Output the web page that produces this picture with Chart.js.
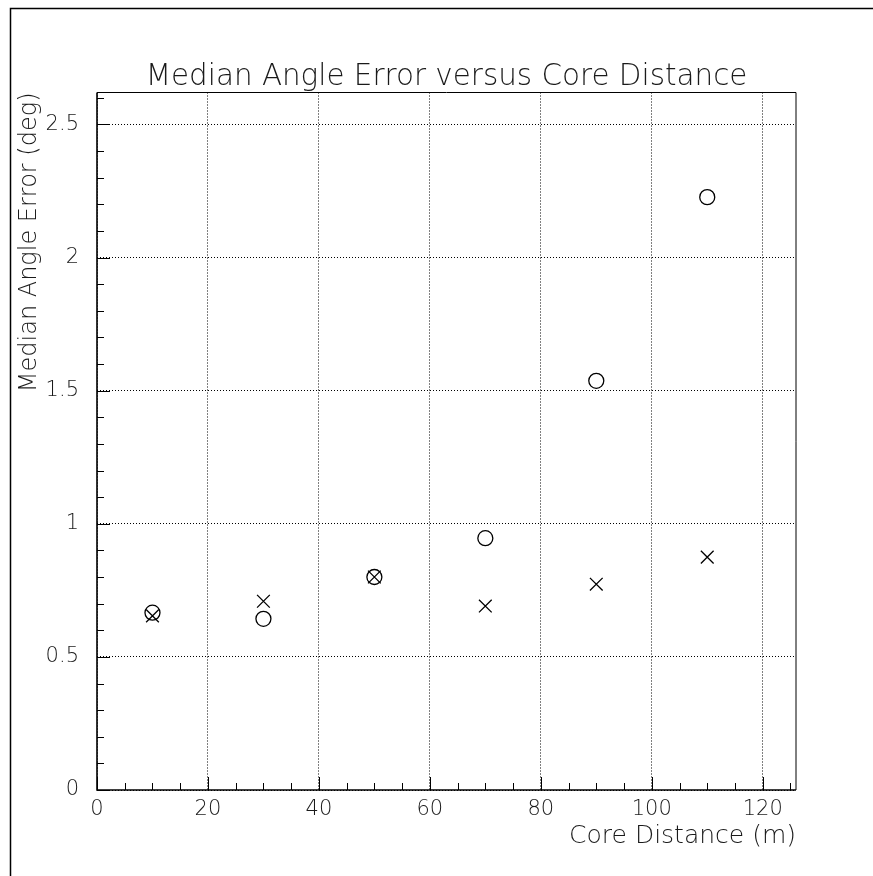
<!DOCTYPE html>
<html>
<head>
<meta charset="utf-8">
<title>Median Angle Error versus Core Distance</title>
<script src="https://cdn.jsdelivr.net/npm/chart.js@4.4.1/dist/chart.umd.min.js"></script>
<style>
  html, body { margin: 0; padding: 0; background: #fff; }
  #wrap { position: relative; width: 873px; height: 876px; }
</style>
</head>
<body>
<div id="wrap"><canvas id="chart"></canvas></div>
<script>
// data
const coreDistance = [10, 30, 50, 70, 90, 110];
const circleErrors = [0.666, 0.643, 0.80, 0.946, 1.537, 2.227];
const crossErrors  = [0.654, 0.709, 0.80, 0.691, 0.773, 0.875];
const xTickLabels = ['0', '20', '40', '60', '80', '100', '120'];
const yTickLabels = ['0', '0.5', '1', '1.5', '2', '2.5'];

const FONT = "'DejaVu Sans', sans-serif";
const TEXT = '#1a1a1a';

// page frame, plot box and inward ticks (ROOT style)
const rootFrame = {
    id: 'rootFrame',
    beforeDraw(chart) {
        const ctx = chart.ctx;
        ctx.save();
        ctx.fillStyle = '#fff';
        ctx.fillRect(0, 0, chart.width, chart.height);
        ctx.strokeStyle = '#000';
        ctx.lineWidth = 1.5;
        ctx.beginPath();
        ctx.moveTo(10.5, chart.height);
        ctx.lineTo(10.5, 8.5);
        ctx.lineTo(chart.width, 8.5);
        ctx.stroke();
        ctx.restore();
    },
    afterDraw(chart) {
        const { ctx, chartArea: a, scales: { x, y } } = chart;
        ctx.save();
        ctx.strokeStyle = '#000';
        // top and right edges
        ctx.lineWidth = 1;
        ctx.beginPath();
        ctx.moveTo(a.left, a.top);
        ctx.lineTo(a.right, a.top);
        ctx.lineTo(a.right, a.bottom);
        ctx.stroke();
        // axes
        ctx.lineWidth = 1.6;
        ctx.beginPath();
        ctx.moveTo(a.left, a.top);
        ctx.lineTo(a.left, a.bottom);
        ctx.lineTo(a.right, a.bottom);
        ctx.stroke();
        // ticks pointing into the plot
        ctx.lineWidth = 1;
        ctx.beginPath();
        for (let v = 0; v <= x.max; v += 5) {
            const px = Math.round(x.getPixelForValue(v)) + 0.5;
            const len = v % 20 === 0 ? 13 : 7;
            ctx.moveTo(px, a.bottom);
            ctx.lineTo(px, a.bottom - len);
        }
        for (let k = 0; k / 10 <= y.max; k++) {
            const py = Math.round(y.getPixelForValue(k / 10)) + 0.5;
            const len = k % 5 === 0 ? 13 : 7;
            ctx.moveTo(a.left, py);
            ctx.lineTo(a.left + len, py);
        }
        ctx.stroke();
        ctx.restore();
    }
};

new Chart(document.getElementById('chart'), {
    type: 'scatter',
    data: {
        datasets: [
            {
                label: 'circles',
                data: coreDistance.map((d, i) => ({ x: d, y: circleErrors[i] })),
                pointStyle: 'circle',
                pointRadius: 7.5,
                pointBorderWidth: 1.3,
                pointBorderColor: '#000',
                pointBackgroundColor: 'rgba(0,0,0,0)'
            },
            {
                label: 'crosses',
                data: coreDistance.map((d, i) => ({ x: d, y: crossErrors[i] })),
                pointStyle: 'crossRot',
                pointRadius: 9,
                pointBorderWidth: 1.3,
                pointBorderColor: '#000',
                pointBackgroundColor: '#000'
            }
        ]
    },
    options: {
        responsive: true,
        maintainAspectRatio: false,
        animation: false,
        events: [],
        layout: { padding: { left: 0, right: 77, top: 50, bottom: 0 } },
        plugins: {
            legend: { display: false },
            tooltip: { enabled: false },
            title: {
                display: true,
                fullSize: false,
                text: 'Median Angle Error versus Core Distance',
                color: TEXT,
                font: { family: FONT, size: 29.4, weight: '200', lineHeight: 1 },
                padding: { top: 12.3, bottom: 0.8 }
            }
        },
        scales: {
            x: {
                type: 'linear',
                min: 0,
                max: 126,
                afterFit: s => { s.height = 86; },
                border: { display: false, dash: [1, 2] },
                grid: { color: '#000', lineWidth: 1, drawTicks: false },
                ticks: {
                    stepSize: 20,
                    includeBounds: false,
                    padding: 7,
                    maxRotation: 0,
                    color: TEXT,
                    font: { family: FONT, size: 21, weight: '200' },
                    callback: (v, i) => xTickLabels[i]
                },
                title: {
                    display: true,
                    align: 'end',
                    text: 'Core Distance (m)',
                    color: TEXT,
                    font: { family: FONT, size: 25, weight: '200', lineHeight: 1.2 },
                    padding: { top: 0, bottom: 25 }
                }
            },
            y: {
                type: 'linear',
                min: 0,
                max: 2.62,
                afterFit: s => { s.width = 97; },
                border: { display: false, dash: [1, 2] },
                grid: { color: '#000', lineWidth: 1, drawTicks: false },
                ticks: {
                    stepSize: 0.5,
                    includeBounds: false,
                    padding: 18,
                    color: TEXT,
                    font: { family: FONT, size: 21, weight: '200' },
                    callback: (v, i) => yTickLabels[i]
                },
                title: {
                    display: true,
                    align: 'end',
                    text: 'Median Angle Error (deg)',
                    color: TEXT,
                    font: { family: FONT, size: 24, weight: '200', lineHeight: 1.2 },
                    padding: { top: 15, bottom: 0 }
                }
            }
        }
    },
    plugins: [rootFrame]
});
</script>
</body>
</html>
